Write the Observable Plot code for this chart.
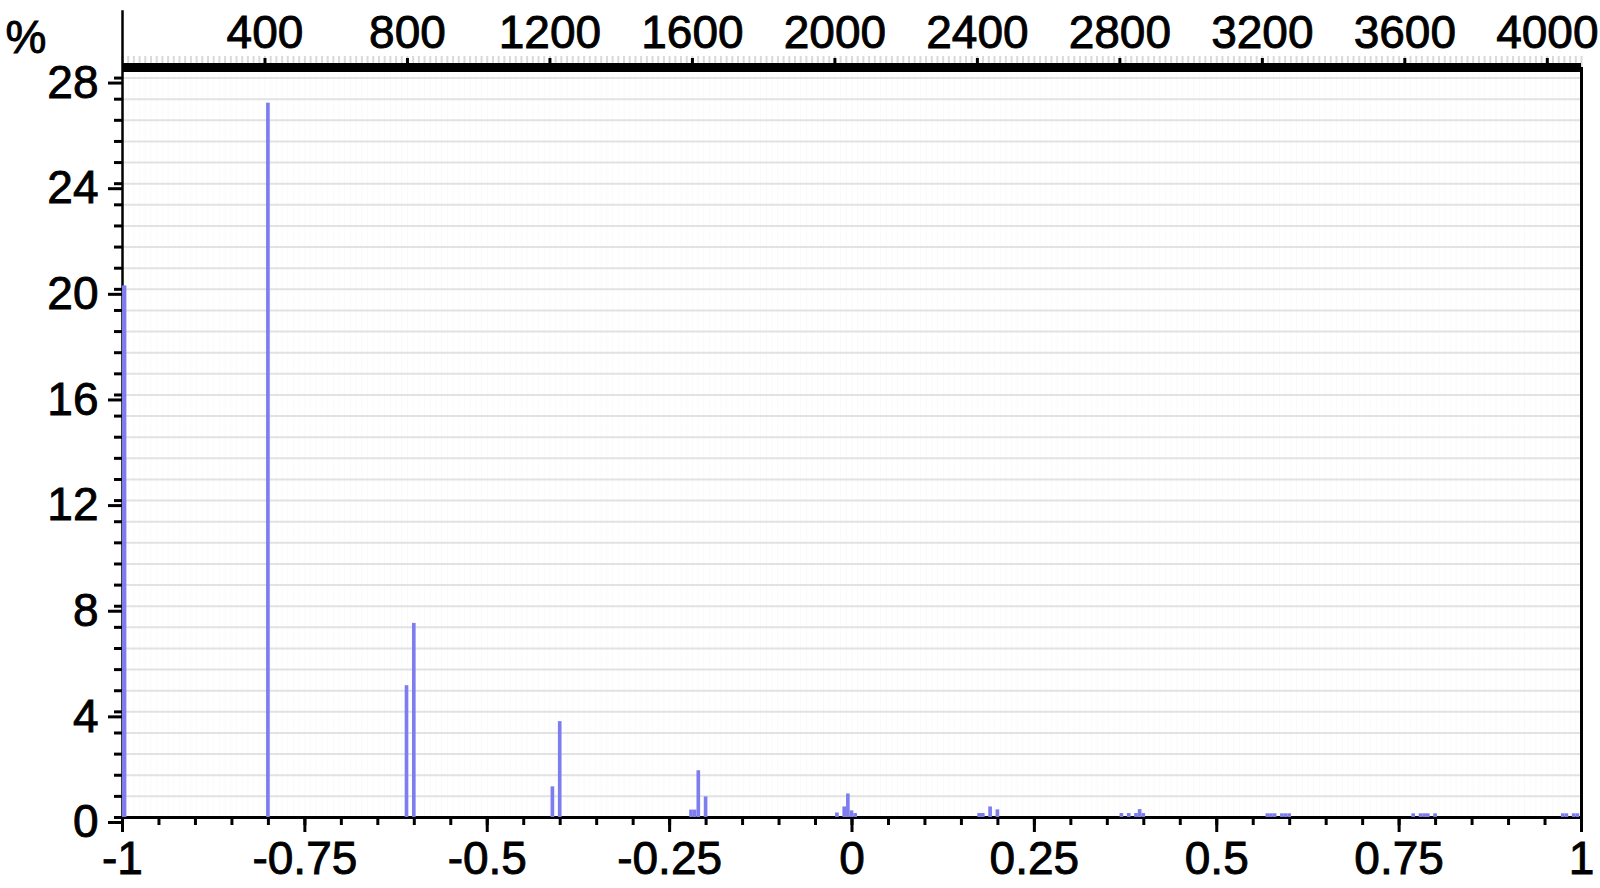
<!DOCTYPE html>
<html>
<head>
<meta charset="utf-8">
<script src="https://cdn.jsdelivr.net/npm/d3@7"></script>
<script src="https://cdn.jsdelivr.net/npm/@observablehq/plot@0.6"></script>
<style>
  html, body { margin: 0; padding: 0; background: #fff; }
  #chart { width: 1600px; height: 888px; }
  #chart svg text { stroke: #000; stroke-width: 0.9px; paint-order: stroke; }
</style>
</head>
<body>
<div id="chart"></div>
<script>
// ---- data ----
const binCenters = [-1, -0.8, -0.61, -0.6, -0.41, -0.4,
  -0.22, -0.215, -0.21, -0.2,
  -0.02, -0.01, -0.005, 0, 0.005,
  0.175, 0.18, 0.19, 0.2,
  0.37, 0.38, 0.39, 0.395, 0.4,
  0.57, 0.575, 0.58, 0.59, 0.595, 0.6,
  0.77, 0.78, 0.785, 0.79, 0.8,
  0.975, 0.98, 0.99, 0.995];
const percents = [20.13, 27.05, 4.99, 7.35, 1.16, 3.63,
  0.28, 0.28, 1.77, 0.78,
  0.17, 0.4, 0.89, 0.25, 0.15,
  0.15, 0.15, 0.4, 0.29,
  0.15, 0.15, 0.15, 0.3, 0.15,
  0.14, 0.14, 0.14, 0.14, 0.14, 0.14,
  0.14, 0.14, 0.14, 0.14, 0.14,
  0.14, 0.14, 0.14, 0.14];
const binWidth = 0.005;

const xTickValues = [-1, -0.75, -0.5, -0.25, 0, 0.25, 0.5, 0.75, 1];
const yTickValues = [0, 4, 8, 12, 16, 20, 24, 28];
const topTickValues = [400, 800, 1200, 1600, 2000, 2400, 2800, 3200, 3600, 4000];
const topDomain = [0, 4096];
const yMax = 28.4;
const yAxisTop = 30.55;   // left axis line overshoot (in % units)

// ---- derived ----
// edge bins are kept inside the [-1, 1] domain (shifted inward, same width)
const data = binCenters.map((c, i) => {
  let x1 = c - binWidth / 2, x2 = c + binWidth / 2;
  if (x1 < -1) { x1 = -1; x2 = -1 + binWidth * 1.2; }
  if (x2 > 1) { x2 = 1; x1 = 1 - binWidth; }
  return {x1, x2, pct: percents[i]};
});
const topToX = v => -1 + 2 * (v - topDomain[0]) / (topDomain[1] - topDomain[0]);
const xToTop = x => topDomain[0] + (x + 1) / 2 * (topDomain[1] - topDomain[0]);
const yMinor = d3.range(0, 36).map(i => +(i * 0.8).toFixed(2));
const xMinor = d3.range(0, 41).map(i => -1 + i * 0.05);
const topMinor = d3.range(0, 4097, 16).map(topToX);

const FONT = "Liberation Sans, Arial, Helvetica, sans-serif";
const barColor = "#7d7def";

const chart = Plot.plot({
  width: 1600,
  height: 888,
  marginLeft: 122,
  marginRight: 19,
  marginTop: 67,
  marginBottom: 71,
  style: {fontFamily: FONT, fontSize: "46px", color: "#000", background: "#fff"},
  x: {domain: [-1, 1], axis: null},
  y: {domain: [0, yMax], axis: null},
  marks: [
    Plot.gridX(topMinor, {stroke: "#000", strokeOpacity: 0.025, strokeWidth: 1}),
    Plot.gridY(yMinor, {stroke: "#e2e2e2", strokeOpacity: 1, strokeWidth: 2}),
    // bottom axis
    Plot.axisX({anchor: "bottom", ticks: xMinor, tickSize: 8, strokeWidth: 3, tickFormat: () => "", label: null}),
    Plot.axisX({anchor: "bottom", ticks: xTickValues, tickSize: 15, tickPadding: 9, strokeWidth: 3,
      fontSize: 46, tickFormat: d => String(d), label: null}),
    // left axis
    Plot.axisY({anchor: "left", ticks: yMinor, tickSize: 8, strokeWidth: 3, tickFormat: () => "", label: null}),
    Plot.axisY({anchor: "left", ticks: yTickValues, tickSize: 14, tickPadding: 10, strokeWidth: 3,
      fontSize: 46, dy: 5, tickFormat: d => String(d), label: null}),
    // top axis
    Plot.axisX({anchor: "top", ticks: topMinor, tickSize: 12, stroke: "#d9d9d9", strokeWidth: 2, tickFormat: () => "", label: null}),
    Plot.axisX({anchor: "top", ticks: topTickValues.map(topToX), tickSize: 10, tickPadding: 10, strokeWidth: 3,
      fontSize: 46, tickFormat: d => String(Math.round(xToTop(d))), label: null}),
    // frame lines
    Plot.ruleY([0], {stroke: "#000", strokeWidth: 3}),
    Plot.ruleY([yMax], {stroke: "#000", strokeWidth: 9}),
    Plot.ruleX([-1], {y1: 0, y2: yAxisTop, stroke: "#000", strokeWidth: 2.5}),
    Plot.ruleX([1], {y1: 0, y2: yMax, stroke: "#000", strokeWidth: 3}),
    // bars on top so the bin at -1 shows next to the axis line
    Plot.rectY(data, {x1: "x1", x2: "x2", y1: 0, y2: "pct", fill: barColor}),
    Plot.text(["%"], {frameAnchor: "top-left", dx: -117, dy: -15, textAnchor: "start", lineAnchor: "bottom", fontSize: 46})
  ]
});
document.getElementById("chart").appendChild(chart);
</script>
</body>
</html>
